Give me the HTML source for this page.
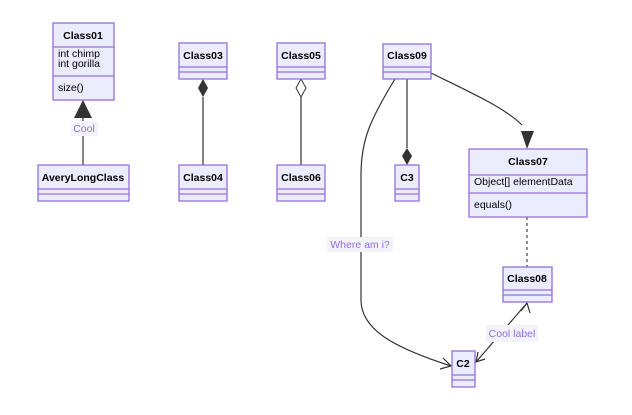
<!DOCTYPE html>
<html><head><style>
html,body{margin:0;padding:0;background:#fff;}
svg text{font-family:"Liberation Sans",Arial,sans-serif;font-size:10.5px;fill:#000;}
.t{font-weight:bold;text-anchor:middle;}
.b{fill:#ECECFF;stroke:#9370DB;stroke-width:1.3;}
.l{stroke:#9370DB;stroke-width:1.3;}
.e{fill:none;stroke:#333;stroke-width:1.2;}
.lab{fill:#9370DB;text-anchor:middle;}
</style></head><body>
<svg width="632" height="410" viewBox="0 0 632 410" xmlns="http://www.w3.org/2000/svg">
<!-- edges -->
<line class="e" x1="83" y1="118" x2="83" y2="165"/>
<polygon points="83,100 74,118 92,118" fill="#333"/>
<line class="e" x1="203" y1="97" x2="203" y2="165"/>
<polygon points="203,79 208,88 203,97 198,88" fill="#333"/>
<line class="e" x1="301" y1="97" x2="301" y2="165"/>
<polygon points="301,79 306,88 301,97 296,88" fill="#fff" stroke="#333"/>
<line class="e" x1="407" y1="79" x2="407" y2="148"/>
<polygon points="407,148 412,156 407,165 402,156" fill="#333"/>
<path class="e" d="M431,73 C470,92 505,108 522,125"/>
<polygon points="527,149 521,131 534,131" fill="#333"/>
<line x1="527" y1="217" x2="527" y2="267" stroke="#555" stroke-width="1.3" stroke-dasharray="3,3"/>
<path class="e" d="M395,79 C370,120 361,140 361,175 L361,300 C361,330 395,348 451,366"/>
<path class="e" d="M443,358 L451,366 L440,369"/>
<path class="e" d="M527,303 L476,362"/>
<path class="e" d="M521,311 L527,303 L530,313"/>
<path class="e" d="M478,352 L476,362 L485,359"/>
<!-- labels -->
<rect x="71" y="121" width="27" height="15" fill="#f3f3fb"/>
<text class="lab" x="84" y="132">Cool</text>
<rect x="327" y="237" width="66" height="15" fill="#f3f3fb"/>
<text class="lab" x="360" y="248">Where am i?</text>
<rect x="486" y="325" width="52" height="17" fill="#f3f3fb"/>
<text class="lab" x="512" y="337">Cool label</text>
<!-- Class01 -->
<rect class="b" x="53" y="23" width="61" height="77"/>
<line class="l" x1="53" y1="47" x2="114" y2="47"/><line class="l" x1="53" y1="76" x2="114" y2="76"/>
<text class="t" x="83" y="39">Class01</text>
<text x="58" y="57">int chimp</text><text x="58" y="67">int gorilla</text><text x="58" y="91">size()</text>
<!-- small classes -->
<g>
<rect class="b" x="38" y="165" width="91" height="36"/><line class="l" x1="38" y1="189" x2="129" y2="189"/><line class="l" x1="38" y1="194" x2="129" y2="194"/><text class="t" x="83" y="181">AveryLongClass</text>
<rect class="b" x="179" y="43" width="48" height="36"/><line class="l" x1="179" y1="67" x2="227" y2="67"/><line class="l" x1="179" y1="72" x2="227" y2="72"/><text class="t" x="203" y="59">Class03</text>
<rect class="b" x="179" y="165" width="48" height="36"/><line class="l" x1="179" y1="189" x2="227" y2="189"/><line class="l" x1="179" y1="194" x2="227" y2="194"/><text class="t" x="203" y="181">Class04</text>
<rect class="b" x="277" y="43" width="48" height="36"/><line class="l" x1="277" y1="67" x2="325" y2="67"/><line class="l" x1="277" y1="72" x2="325" y2="72"/><text class="t" x="301" y="59">Class05</text>
<rect class="b" x="277" y="165" width="48" height="36"/><line class="l" x1="277" y1="189" x2="325" y2="189"/><line class="l" x1="277" y1="194" x2="325" y2="194"/><text class="t" x="301" y="181">Class06</text>
<rect class="b" x="383" y="44" width="48" height="35"/><line class="l" x1="383" y1="67" x2="431" y2="67"/><line class="l" x1="383" y1="72" x2="431" y2="72"/><text class="t" x="407" y="59">Class09</text>
<rect class="b" x="395" y="165" width="24" height="36"/><line class="l" x1="395" y1="189" x2="419" y2="189"/><line class="l" x1="395" y1="194" x2="419" y2="194"/><text class="t" x="407" y="181">C3</text>
<rect class="b" x="503" y="267" width="49" height="35"/><line class="l" x1="503" y1="290" x2="552" y2="290"/><line class="l" x1="503" y1="295" x2="552" y2="295"/><text class="t" x="527" y="282">Class08</text>
<rect class="b" x="452" y="351" width="23" height="36"/><line class="l" x1="452" y1="375" x2="475" y2="375"/><line class="l" x1="452" y1="380" x2="475" y2="380"/><text class="t" x="463" y="367">C2</text>
</g>
<!-- Class07 -->
<rect class="b" x="469" y="149" width="118" height="68"/>
<line class="l" x1="469" y1="175" x2="587" y2="175"/><line class="l" x1="469" y1="193" x2="587" y2="193"/>
<text class="t" x="528" y="165">Class07</text>
<text x="474" y="185">Object[] elementData</text>
<text x="474" y="208">equals()</text>
</svg>
</body></html>
